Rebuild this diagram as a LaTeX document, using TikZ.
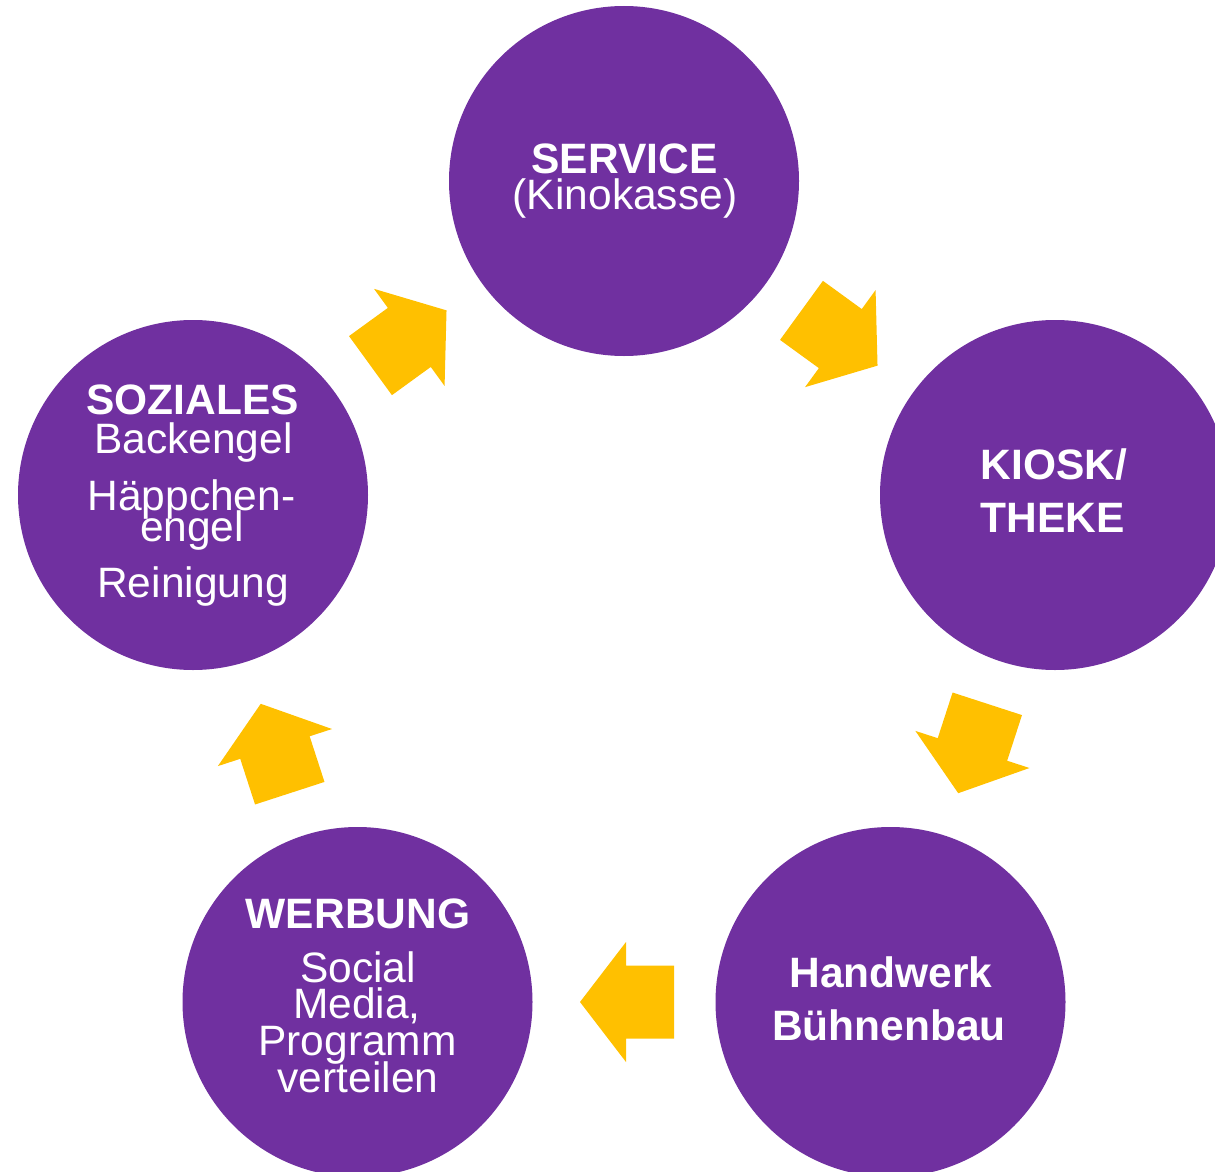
\documentclass[tikz,border=0pt]{standalone}
\usepackage{fontspec}
\setmainfont{Liberation Sans}
\usetikzlibrary{calc}
\definecolor{circpurple}{RGB}{112,48,160}
\definecolor{arrowyellow}{RGB}{255,192,0}
\begin{document}
\begin{tikzpicture}[x=1pt,y=-1pt,
  bubble/.style={circle, fill=circpurple, minimum size=350pt, inner sep=0pt, outer sep=0pt},
  txt/.style={anchor=base, text=white, inner sep=0pt, font=\fontsize{42.5}{42.5}\selectfont},
  btxt/.style={anchor=base, text=white, inner sep=0pt, font=\fontsize{42.5}{42.5}\selectfont\bfseries},
  blockarrow/.style={fill=arrowyellow}]
\useasboundingbox (0,0) rectangle (1215,1172);
\clip (0,0) rectangle (1215,1172);

\node[bubble] (ser) at (624,181) {};
\node[bubble] (kio) at (1055,495) {};
\node[bubble] (han) at (890.5,1002) {};
\node[bubble] (wer) at (357.5,1002) {};
\node[bubble] (soz) at (193,495) {};

% arrows
\fill[blockarrow, shift={($(soz)!0.5!(ser)$)}, rotate=36]
  (47,0) -- (1,60) -- (1,36.5) -- (-47,36.5) -- (-47,-36.5) -- (1,-36.5) -- (1,-60) -- cycle;
\fill[blockarrow, shift={($(ser)!0.5!(kio)$)}, rotate=-36]
  (47,0) -- (1,60) -- (1,36.5) -- (-47,36.5) -- (-47,-36.5) -- (1,-36.5) -- (1,-60) -- cycle;
\fill[blockarrow, shift={($(kio)!0.5!(han)$)}, rotate=-108]
  (47,0) -- (1,60) -- (1,36.5) -- (-47,36.5) -- (-47,-36.5) -- (1,-36.5) -- (1,-60) -- cycle;
\fill[blockarrow, shift={($(han)!0.5!(wer)+(3,0)$)}, rotate=180]
  (47,0) -- (1,60) -- (1,36.5) -- (-47,36.5) -- (-47,-36.5) -- (1,-36.5) -- (1,-60) -- cycle;
\fill[blockarrow, shift={($(wer)!0.5!(soz)$)}, rotate=108]
  (47,0) -- (1,60) -- (1,36.5) -- (-47,36.5) -- (-47,-36.5) -- (1,-36.5) -- (1,-60) -- cycle;

% texts
\node[btxt] (ser1) at (624.5,173.5) {SERVICE};
\node[txt]  (ser2) at (625,209.5) {(Kinokasse)};

\node[btxt] (kio1) at (1054,479.5) {KIOSK/};
\node[btxt] (kio2) at (1053,532) {THEKE};

\node[btxt] (soz1) at (192.7,414.5) {SOZIALES};
\node[txt]  (soz2) at (193.3,453.5) {Backengel};
\node[txt]  (soz3) at (191.5,510.5) {Häppchen-};
\node[txt]  (soz4) at (192,541) {engel};
\node[txt]  (soz5) at (193,597) {Reinigung};

\node[btxt] (wer1) at (358,928.5) {WERBUNG};
\node[txt]  (wer2) at (358,982) {Social};
\node[txt]  (wer3) at (357,1018.5) {Media,};
\node[txt]  (wer4) at (357.5,1055.5) {Programm};
\node[txt]  (wer5) at (358,1092) {verteilen};

\node[btxt] (han1) at (891,987) {Handwerk};
\node[btxt] (han2) at (889,1040.5) {Bühnenbau};
\end{tikzpicture}
\end{document}
